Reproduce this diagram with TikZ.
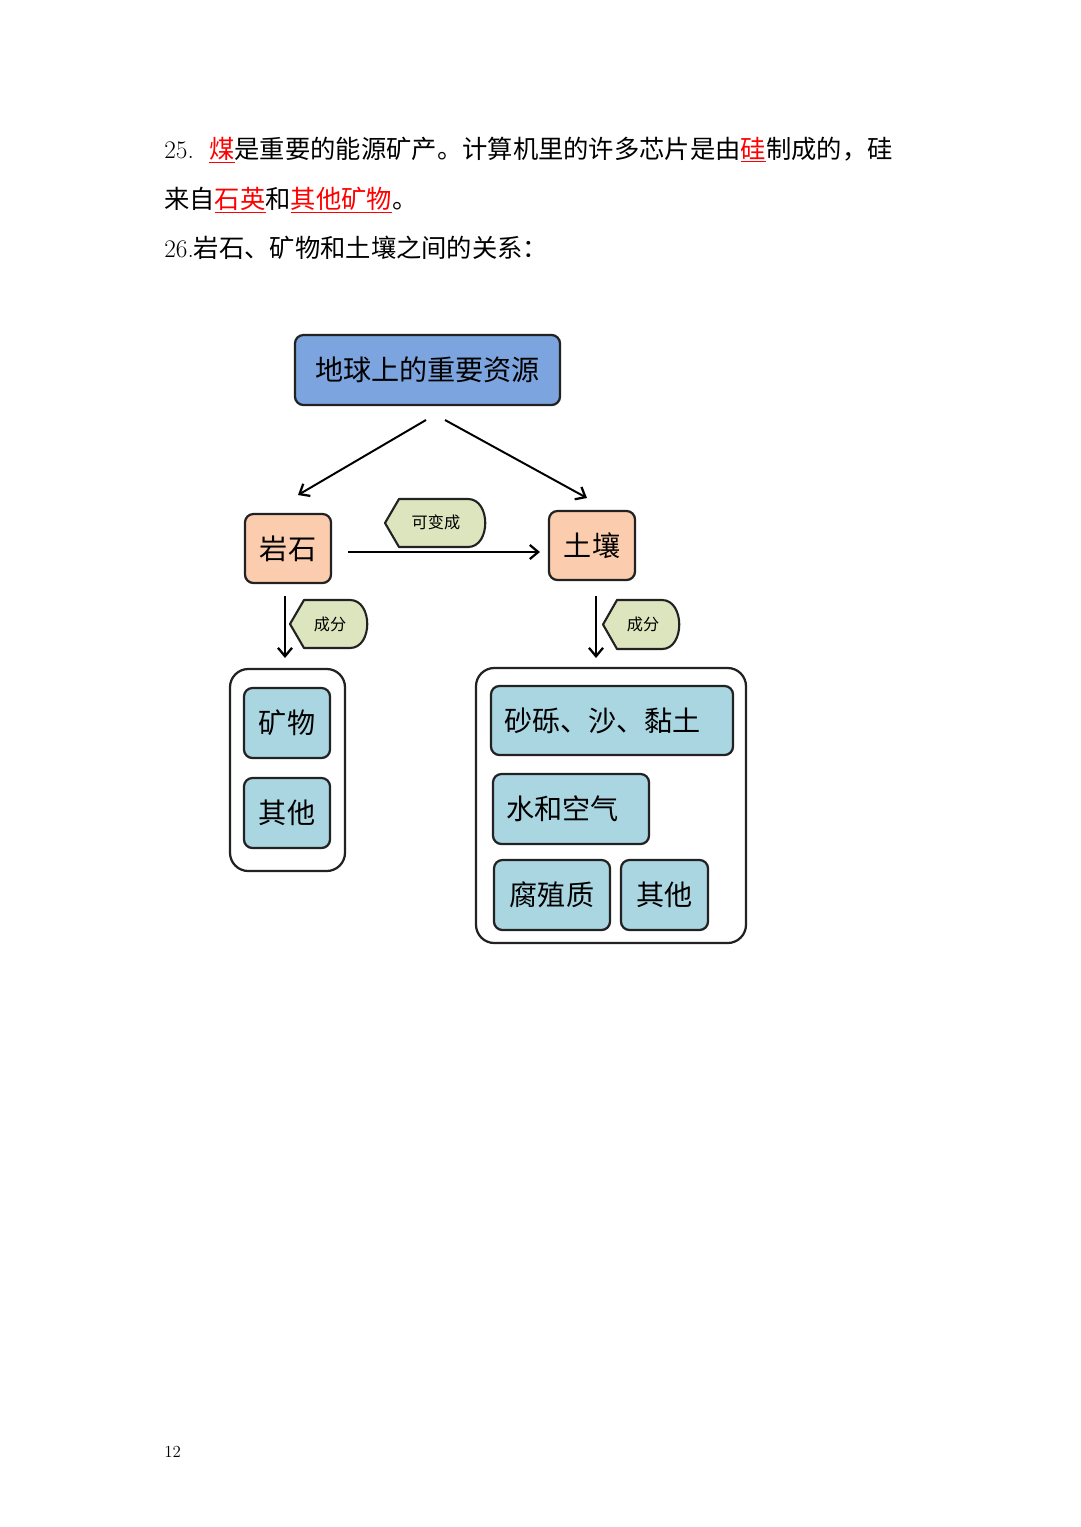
\documentclass[tikz,border=0pt]{standalone}
\usepackage{fontspec}
\newfontfamily\cjk{Noto Sans CJK SC}
\usetikzlibrary{arrows.meta}

\definecolor{resblue}{HTML}{7CA4DE}
\definecolor{rockorange}{HTML}{FBCDAE}
\definecolor{taggreen}{HTML}{DCE5BD}
\definecolor{partblue}{HTML}{AAD6E2}
\definecolor{boxline}{HTML}{222222}

\newcommand{\redu}[1]{\textcolor{red}{\underline{#1}}}
% tag shape: x1, y1, x2, y2
\newcommand{\tagshape}[4]{%
  \draw[tagline] (#1,{(#2+#4)/2}) -- (#1+14,#2) -- (#3-18,#2)
    .. controls (#3+5,#2) and (#3+5,#4) .. (#3-18,#4) -- (#1+14,#4) -- cycle;}

\tikzset{
  size/.style 2 args={minimum width=#1*0.025cm, minimum height=#2*0.025cm},
  box/.style={draw=boxline, line width=1.6pt, rounded corners=6pt, inner sep=0pt,
    font=\cjk\fontsize{20}{24}\selectfont},
  part/.style={box, fill=partblue},
  leftpart/.style={part, text width=#1*0.025cm, align=left},
  group/.style={draw=boxline, line width=1.6pt, rounded corners=13pt, fill=white, inner sep=0pt},
  tagline/.style={draw=boxline, line width=1.5pt, fill=taggreen, line join=round},
  tagtext/.style={font=\cjk\fontsize{11.5}{12}\selectfont, inner sep=0pt},
  arr/.style={line width=1.4pt, -{Straight Barb[length=6pt,width=10pt,line width=1.6pt]}},
  body/.style={anchor=base west, inner sep=0pt, font=\fontsize{18}{18}\selectfont}
}

\begin{document}
\begin{tikzpicture}[x=0.025cm, y=-0.025cm]
  \useasboundingbox[fill=white] (0,0) rectangle (1080,1527);

  % text above the diagram
  \node[body] (line1) at (164,158) {25.\hspace{11pt}{\cjk\redu{煤}是重要的能源矿产。计算机里的许多芯片是由\redu{硅}制成的，硅}};
  \node[body] (line2) at (164,208) {\cjk 来自\redu{石英}和\redu{其他矿物}。};
  \node[body] (line3) at (164,257) {26.{\cjk 岩石、矿物和土壤之间的关系：}};

  % main boxes
  \node[box, fill=resblue, size={265}{70}] (res) at (427.5,370) {地球上的重要资源};
  \node[box, fill=rockorange, size={86}{69}] (rock) at (288,548.5) {岩石};
  \node[box, fill=rockorange, size={86}{69}] (soil) at (592,545.5) {土壤};

  % arrows
  \coordinate (resL) at (426,420);
  \coordinate (rockT) at (298,495);
  \coordinate (resR) at (445,420);
  \coordinate (soilT) at (587,498);
  \coordinate (rockR) at (348,552);
  \coordinate (soilL) at (540,552);
  \coordinate (rockB) at (285,596);
  \coordinate (minT) at (285,658);
  \coordinate (soilB) at (596,596);
  \coordinate (sandT) at (596,658);
  \draw[arr] (resL) -- (rockT);
  \draw[arr] (resR) -- (soilT);
  \draw[arr] (rockR) -- (soilL);
  \draw[arr] (rockB) -- (minT);
  \draw[arr] (soilB) -- (sandT);

  % tags
  \tagshape{385}{499}{486}{547}
  \node[tagtext] (change) at (436,522) {可变成};
  \tagshape{290}{600}{368}{648}
  \node[tagtext] (compL) at (330,624) {成分};
  \tagshape{603}{600}{680}{649}
  \node[tagtext] (compR) at (643,624) {成分};

  % rock parts
  \node[group, size={115}{202}] (rockparts) at (287.5,770) {};
  \node[part, size={86}{70}] (mineral) at (287,723) {矿物};
  \node[part, size={86}{70}] (otherL) at (287,813) {其他};

  % soil parts
  \node[group, size={270}{275}] (soilparts) at (611,805.5) {};
  \node[leftpart=216, size={242}{69}] (sand) at (612,720.5) {砂砾、沙、黏土};
  \node[leftpart=130, size={156}{70}] (water) at (571,809) {水和空气};
  \node[part, size={116}{70}] (humus) at (552,895) {腐殖质};
  \node[part, size={87}{70}] (otherR) at (664.5,895) {其他};

  % page number
  \node[anchor=base west, inner sep=0pt, font=\fontsize{12}{12}\selectfont] (page) at (164,1457) {12};
\end{tikzpicture}
\end{document}
